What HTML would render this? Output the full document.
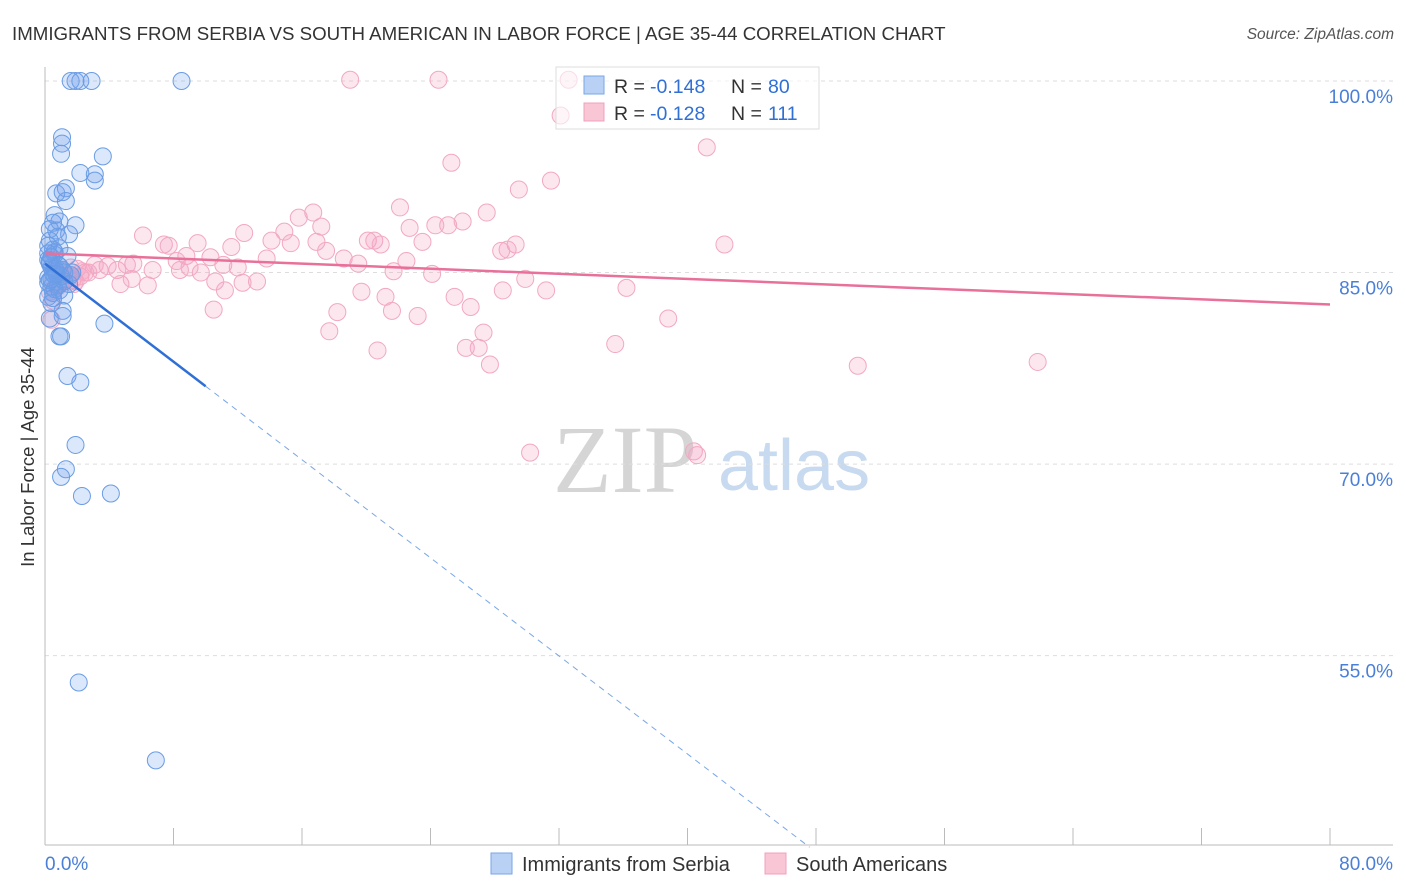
<!DOCTYPE html>
<html><head><meta charset="utf-8"><style>
body{margin:0;background:#fff;font-family:"Liberation Sans",sans-serif}
svg{display:block}
</style></head><body>
<svg id="chart" width="1406" height="892" xmlns="http://www.w3.org/2000/svg">
<text x="12" y="40" font-size="18.7" fill="#333">IMMIGRANTS FROM SERBIA VS SOUTH AMERICAN IN LABOR FORCE | AGE 35-44 CORRELATION CHART</text>
<text x="1394" y="39" font-size="15.5" fill="#555" text-anchor="end" font-style="italic">Source: ZipAtlas.com</text>
<g>
<text x="553" y="492" font-family="Liberation Serif" font-size="96" fill="#d5d5d5">ZIP</text>
<text x="718" y="490" font-size="72" fill="#c8daf0">atlas</text>
</g>
<g id="grid"></g>
<g id="axes"></g>
<g id="pts"></g>
<g id="trends"></g>
<text transform="translate(34,457) rotate(-90)" font-size="18.5" fill="#333" text-anchor="middle">In Labor Force | Age 35-44</text>
<g>
<rect x="556" y="67" width="263" height="62" fill="#fff" fill-opacity="0.6" stroke="#ddd"/>
<rect x="584" y="76" width="20" height="18" fill="#b8d1f5" stroke="#7aa6e6"/>
<rect x="584" y="103" width="20" height="18" fill="#f9c6d5" stroke="#f0a0bc"/>
<text x="614" y="93" font-size="19.5" fill="#333">R =</text>
<text x="650" y="93" font-size="19.5" fill="#2f6fd6">-0.148</text>
<text x="731" y="93" font-size="19.5" fill="#333">N =</text>
<text x="768" y="93" font-size="19.5" fill="#2f6fd6">80</text>
<text x="614" y="120" font-size="19.5" fill="#333">R =</text>
<text x="650" y="120" font-size="19.5" fill="#2f6fd6">-0.128</text>
<text x="731" y="120" font-size="19.5" fill="#333">N =</text>
<text x="768" y="120" font-size="19.5" fill="#2f6fd6">111</text>
</g>
<g>
<rect x="491" y="853" width="21" height="21" fill="#b8d1f5" stroke="#7aa6e6"/>
<text x="522" y="871" font-size="20" fill="#333">Immigrants from Serbia</text>
<rect x="765" y="853" width="21" height="21" fill="#f9c6d5" stroke="#f0a0bc"/>
<text x="796" y="871" font-size="20" fill="#333">South Americans</text>
</g>
</svg>
<script>
const yTicks=[100,85,70,55];
const yTickLabels=["100.0%","85.0%","70.0%","55.0%"];
const xTicks=[0,8,16,24,32,40,48,56,64,72,80];
const blueX=[1.6,1.9,2.2,2.9,8.5,1.06,1.06,1.0,3.6,2.2,3.1,3.1,0.7,1.1,1.3,1.3,0.6,0.9,1.9,0.7,1.5,0.3,0.9,0.6,1.4,0.3,0.8,1.1,0.6,0.2,1.2,1.7,0.9,0.5,1.2,1.1,1.1,0.3,0.9,1.0,3.7,1.4,2.2,1.9,1.3,1.0,2.3,4.1,2.1,6.9,0.2,0.4,0.5,0.3,0.6,0.8,0.4,0.2,0.5,0.7,0.3,0.4,1.0,1.5,0.6,0.2,0.4,0.8,0.3,0.5,0.9,0.2,0.6,1.2,0.4,0.3,0.7,0.5,0.2,1.6];
const blueY=[100,100,100,100,100,95.6,95.1,94.3,94.1,92.8,92.7,92.2,91.2,91.3,91.6,90.6,89.5,89.0,88.7,88.3,88.0,87.5,86.9,86.4,86.3,85.8,85.6,85.2,84.8,84.6,84.3,85.0,83.6,83.4,83.2,82.0,81.6,81.4,80.0,80.0,81.0,76.9,76.4,71.5,69.6,69.0,67.5,67.7,52.9,46.8,86.0,85.4,84.9,85.7,86.6,84.0,83.9,87.1,88.9,85.1,84.4,86.2,84.7,84.1,85.3,83.1,82.6,87.8,85.9,86.8,85.5,84.2,83.7,85.0,84.5,88.4,84.9,83.0,86.5,84.8];
const pinkX=[19.0,24.5,32.6,32.1,41.2,25.3,31.5,29.5,22.1,27.5,15.8,16.7,26.0,25.1,24.3,22.7,17.2,6.1,12.4,14.9,14.1,15.3,20.1,20.5,20.9,16.9,23.5,29.3,28.8,28.4,42.3,9.5,7.4,7.7,11.6,8.8,8.2,17.5,13.8,10.3,18.6,19.5,22.5,21.7,24.1,9.0,8.4,9.7,11.1,12.0,6.7,5.5,4.5,5.1,3.4,2.7,2.2,1.7,3.9,6.4,4.7,5.4,13.2,12.3,11.2,10.6,19.7,25.5,29.9,31.2,36.2,28.5,26.5,21.2,18.2,21.6,23.2,10.5,38.8,17.7,27.3,20.7,26.2,27.0,27.7,35.5,50.6,61.8,30.2,40.4,40.6,0.6,0.9,1.2,1.6,1.9,2.5,3.1,0.4,1.4,2.0,0.8,1.1,0.5,1.8,2.3,0.7,1.3,0.3,1.0,1.5];
const pinkY=[100.1,100.1,100.1,97.3,94.8,93.6,92.2,91.5,90.1,89.7,89.3,89.7,89.0,88.7,88.7,88.5,88.6,87.9,88.1,88.2,87.5,87.3,87.5,87.5,87.2,87.4,87.4,87.2,86.8,86.7,87.2,87.3,87.2,87.1,87.0,86.3,85.9,86.7,86.1,86.2,86.1,85.7,85.9,85.1,84.9,85.4,85.2,85.0,85.6,85.4,85.2,85.7,85.2,85.6,85.2,85.0,84.7,84.4,85.5,84.0,84.1,84.5,84.3,84.2,83.6,84.3,83.5,83.1,84.5,83.6,83.8,83.6,82.3,83.1,81.9,82.0,81.6,82.1,81.4,80.4,80.3,78.9,79.1,79.1,77.8,79.4,77.7,78.0,70.9,71.0,70.7,85.2,84.8,84.4,85.4,84.3,85.0,85.6,81.3,84.8,85.3,83.9,84.6,82.8,84.1,85.1,84.0,84.9,83.5,84.2,84.7];
const blueTrend={x0:0,y0:85.7,x1:47.6,y1:40,solidTo:10};
const pinkTrend={x0:0,y0:86.5,x1:80,y1:82.5};
const X=v=>45+v*(1285/80);
const Y=v=>81+(100-v)*12.77;
const NS="http://www.w3.org/2000/svg";
function mk(tag,attrs,parent){const e=document.createElementNS(NS,tag);for(const k in attrs)e.setAttribute(k,attrs[k]);parent.appendChild(e);return e;}
const grid=document.getElementById('grid'),axes=document.getElementById('axes'),pts=document.getElementById('pts'),tr=document.getElementById('trends');
yTicks.forEach((t,i)=>{
 const l=mk('line',{x1:45,x2:1393,y1:Y(t),y2:Y(t),stroke:'#ddd','stroke-dasharray':'4,4'},grid);
 
 
 const tx=mk('text',{x:1393,y:Y(t)+22,'font-size':19,fill:'#4a7fd8','text-anchor':'end'},axes);
 tx.textContent=yTickLabels[i];
 
 
});
mk('line',{x1:45,x2:45,y1:67,y2:845,stroke:'#bbb'},axes);
mk('line',{x1:45,x2:1393,y1:845,y2:845,stroke:'#bbb'},axes);
xTicks.forEach(t=>{
 const l=mk('line',{x1:X(t),x2:X(t),y1:828,y2:845,stroke:'#bbb'},axes);
 
 
});
const xl0=mk('text',{x:45,y:870,'font-size':19,fill:'#4a7fd8'},axes);xl0.textContent='0.0%';


const xl1=mk('text',{x:1393,y:870,'font-size':19,fill:'#4a7fd8','text-anchor':'end'},axes);xl1.textContent='80.0%';


pinkX.forEach((x,i)=>{
 const c=mk('circle',{cx:X(x),cy:Y(pinkY[i]),r:8.5,fill:'rgba(244,160,190,0.25)',stroke:'#f2a8c2','stroke-width':1},pts);
 
 
});
blueX.forEach((x,i)=>{
 const c=mk('circle',{cx:X(x),cy:Y(blueY[i]),r:8.5,fill:'rgba(110,160,235,0.25)',stroke:'#6a9ce4','stroke-width':1},pts);
 
 
});
const bt=blueTrend,slope=(bt.y1-bt.y0)/(bt.x1-bt.x0),ys=bt.y0+slope*bt.solidTo;
const b1=mk('line',{x1:X(bt.x0),y1:Y(bt.y0),x2:X(bt.solidTo),y2:Y(ys),stroke:'#2f6fd6','stroke-width':2.5},tr);


const b2=mk('line',{x1:X(bt.solidTo),y1:Y(ys),x2:X(bt.x1),y2:Y(bt.y1),stroke:'#7aa6e6','stroke-width':1,'stroke-dasharray':'6,5'},tr);


const p=mk('line',{x1:X(pinkTrend.x0),y1:Y(pinkTrend.y0),x2:X(pinkTrend.x1),y2:Y(pinkTrend.y1),stroke:'#e8709a','stroke-width':2.5},tr);


</script>
</body></html>
